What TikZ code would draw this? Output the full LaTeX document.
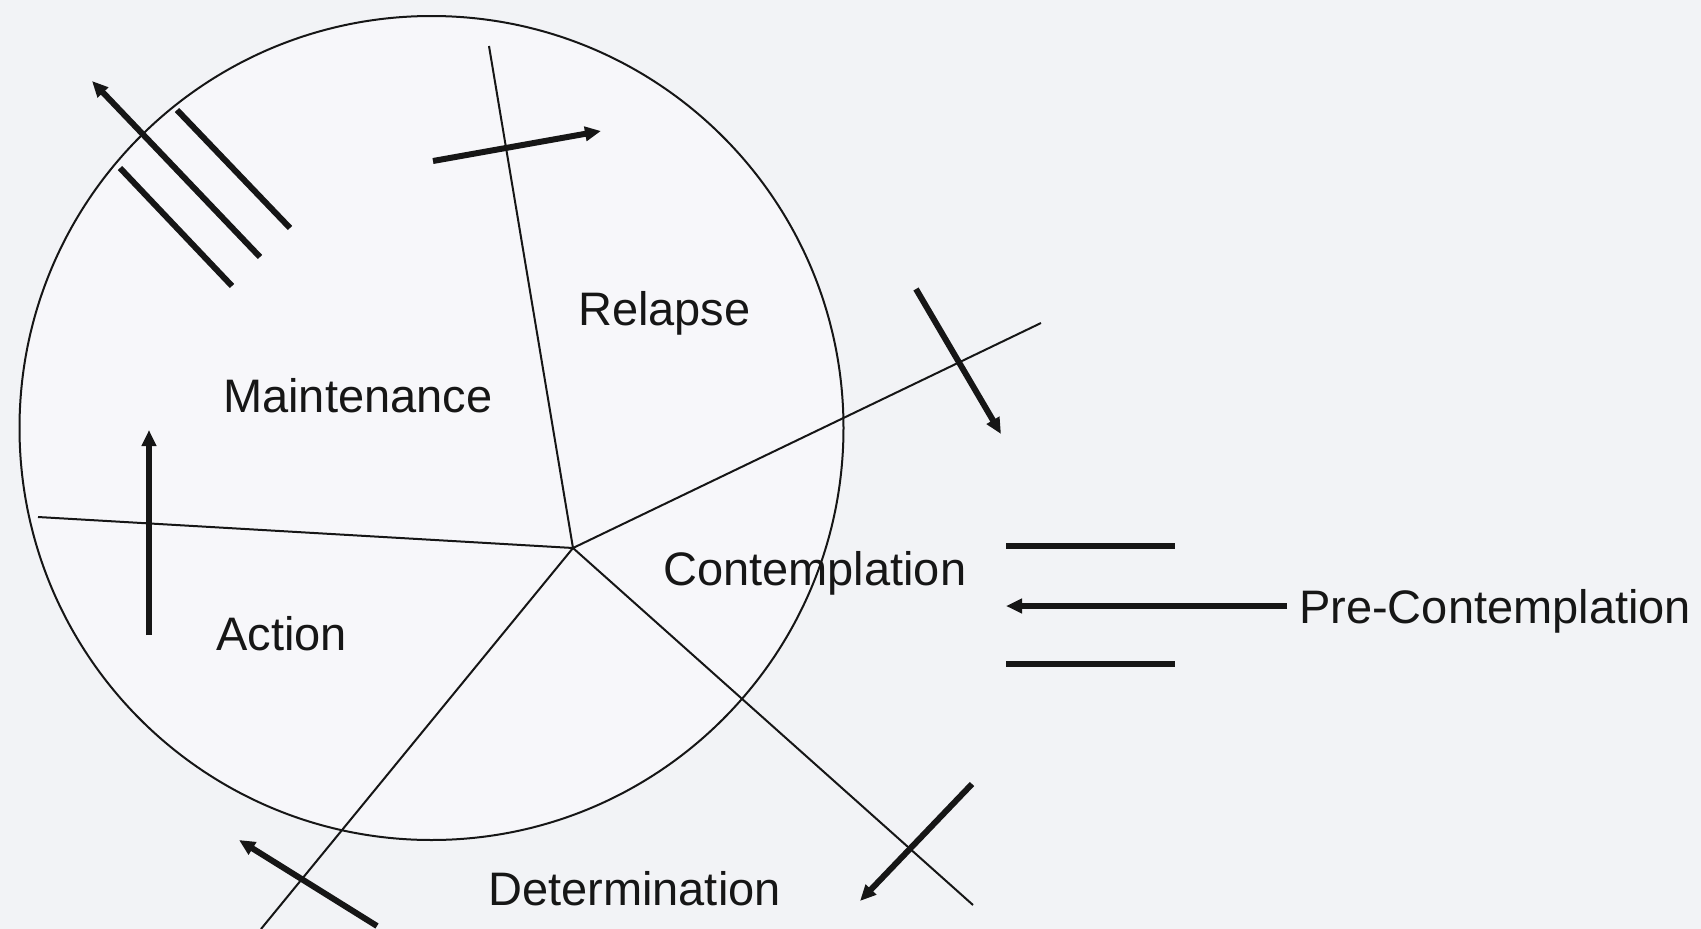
\documentclass[tikz,border=0pt]{standalone}
\usepackage{fontspec}
\setmainfont{Liberation Sans}
\usetikzlibrary{arrows.meta}
\definecolor{bgc}{RGB}{242,243,246}
\definecolor{inc}{RGB}{247,247,250}
\definecolor{ink}{RGB}{22,22,22}
\tikzset{
  spoke/.style={draw=ink, line width=2pt},
  bar/.style={draw=ink, line width=6pt},
  arrowbar/.style={bar, -{Triangle[length=16pt,width=14pt]}},
  lbl/.style={font=\fontsize{47}{51}\selectfont, text=ink, inner sep=0pt, anchor=base west},
}
\begin{document}
\begin{tikzpicture}[x=1pt,y=-1pt]
\useasboundingbox (0,0) rectangle (1701,929);
\fill[bgc] (0,0) rectangle (1701,929);
% wheel
\node[circle, draw=ink, fill=inc, line width=2pt, minimum size=824pt, inner sep=0pt] (wheel) at (431.5,428) {};
% spokes
\coordinate (hub) at (573,548);
\coordinate (s1) at (489,46);
\coordinate (s2) at (38,517);
\coordinate (s3) at (1041,323);
\coordinate (s4) at (261,929);
\coordinate (s5) at (973,905);
\draw[spoke] (hub) -- (s1);
\draw[spoke] (hub) -- (s2);
\draw[spoke] (hub) -- (s3);
\draw[spoke] (hub) -- (s4);
\draw[spoke] (hub) -- (s5);
% arrows
\coordinate (a1t) at (260,257); \coordinate (a1h) at (92,81);
\coordinate (b1a) at (177,110); \coordinate (b1b) at (290,228);
\coordinate (b2a) at (120,168); \coordinate (b2b) at (232,286);
\draw[arrowbar] (a1t) -- (a1h);
\draw[bar] (b1a) -- (b1b);
\draw[bar] (b2a) -- (b2b);
\coordinate (a2t) at (433,161); \coordinate (a2h) at (601,131);
\draw[arrowbar] (a2t) -- (a2h);
\coordinate (a3t) at (916,289); \coordinate (a3h) at (1001,434);
\draw[arrowbar] (a3t) -- (a3h);
\coordinate (a4t) at (149,635); \coordinate (a4h) at (149,430);
\draw[arrowbar] (a4t) -- (a4h);
\coordinate (a5t) at (377,926); \coordinate (a5h) at (239,840);
\draw[arrowbar] (a5t) -- (a5h);
\coordinate (a6t) at (972,784); \coordinate (a6h) at (860,901);
\draw[arrowbar] (a6t) -- (a6h);
\coordinate (p1a) at (1006,546); \coordinate (p1b) at (1175,546);
\coordinate (p2a) at (1006,664); \coordinate (p2b) at (1175,664);
\draw[bar] (p1a) -- (p1b);
\draw[bar] (p2a) -- (p2b);
% labels
\node[lbl] (relapse) at (578,325) {Relapse};
\node[lbl] (maint) at (223,412) {Maintenance};
\node[lbl] (action) at (216,650) {Action};
\node[lbl] (contemp) at (663,585) {Contemplation};
\node[lbl] (determ) at (488,905) {Determination};
\node[lbl] (precon) at (1299,623) {Pre-Contemplation};
\coordinate (pch) at (1006,606);
\draw[arrowbar] (precon.west |- pch) ++(-12,0) coordinate (pct) (pct) -- (pch);
\end{tikzpicture}
\end{document}
